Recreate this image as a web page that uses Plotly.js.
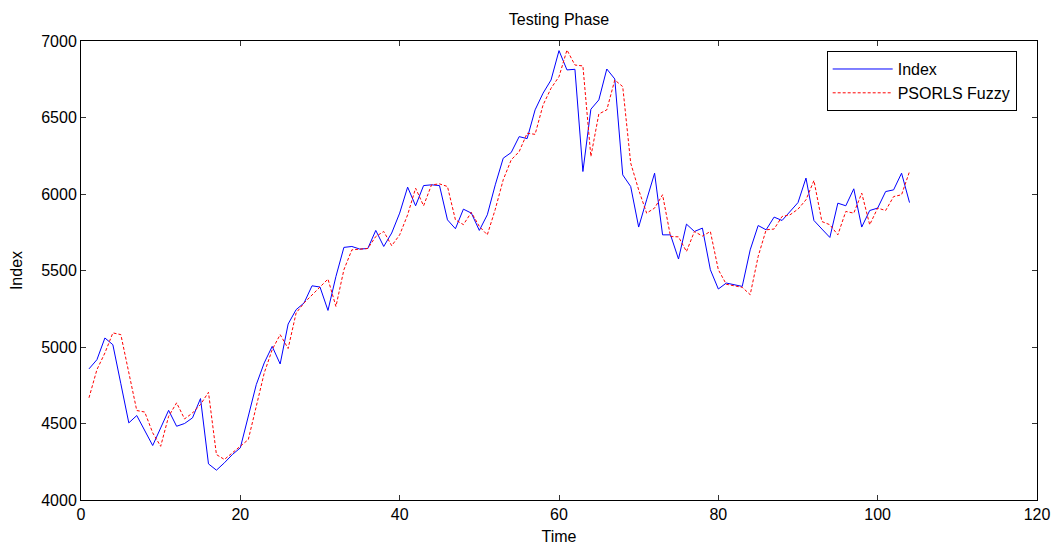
<!DOCTYPE html>
<html>
<head>
<meta charset="utf-8">
<script src="https://cdn.plot.ly/plotly-3.0.1.min.js"></script>
<style>
  html, body { margin: 0; padding: 0; background: #fff; }
  #chart { width: 1053px; height: 545px; }
</style>
</head>
<body>
<div id="chart"></div>
<script>
// Time steps of the testing period
const time = Array.from({length: 104}, (_, i) => i + 1);

// Actual index values
const indexValues = [
  4857, 4917, 5059, 5015, 4760, 4504, 4552, 4454, 4356, 4471,
  4586, 4482, 4500, 4537, 4663, 4236, 4195, 4243, 4297, 4341,
  4547, 4754, 4896, 5004, 4889, 5150, 5244, 5288, 5400, 5392,
  5239, 5461, 5651, 5657, 5640, 5644, 5762, 5657, 5745, 5875,
  6045, 5923, 6055, 6060, 6055, 5831, 5773, 5901, 5875, 5762,
  5864, 6060, 6234, 6271, 6375, 6362, 6550, 6659, 6745, 6937,
  6811, 6815, 6147, 6554, 6615, 6817, 6752, 6125, 6049, 5784,
  5962, 6136, 5733, 5733, 5575, 5803, 5755, 5777, 5505, 5379,
  5418, 5407, 5396, 5635, 5794, 5766, 5849, 5827, 5886, 5944,
  6104, 5827, 5771, 5716, 5940, 5923, 6034, 5784, 5892, 5908,
  6016, 6027, 6136, 5944
];

// PSORLS fuzzy model forecasts
const fuzzyValues = [
  4668, 4852, 4961, 5092, 5081, 4830, 4585, 4575, 4439, 4351,
  4547, 4635, 4530, 4569, 4624, 4704, 4297, 4265, 4308, 4351,
  4395, 4612, 4830, 4983, 5081, 4990, 5222, 5288, 5342, 5396,
  5444, 5265, 5505, 5635, 5640, 5644, 5722, 5755, 5662, 5733,
  5864, 6038, 5923, 6060, 6066, 6049, 5831, 5800, 5880, 5788,
  5733, 5900, 6093, 6223, 6277, 6397, 6390, 6582, 6691, 6767,
  6941, 6843, 6837, 6245, 6523, 6550, 6745, 6702, 6202, 6027,
  5875, 5908, 5995, 5722, 5720, 5624, 5755, 5725, 5755, 5505,
  5410, 5400, 5390, 5342, 5592, 5766, 5771, 5853, 5864, 5901,
  5962, 6088, 5820, 5799, 5733, 5886, 5875, 6006, 5799, 5908,
  5892, 5983, 5995, 6147
];

const seriesNames = ['Index', 'PSORLS Fuzzy'];
const xTicks = [0, 20, 40, 60, 80, 100, 120];
const yTicks = [4000, 4500, 5000, 5500, 6000, 6500, 7000];

const font = 'Liberation Sans, Arial, sans-serif';

const traces = [
  {
    x: time, y: indexValues, name: seriesNames[0],
    type: 'scatter', mode: 'lines',
    line: {color: '#0000ff', width: 1}
  },
  {
    x: time, y: fuzzyValues, name: seriesNames[1],
    type: 'scatter', mode: 'lines',
    line: {color: '#ff0000', width: 1, dash: '3px,2px'}
  }
];

const axisCommon = {
  showgrid: false, zeroline: false,
  showline: true, linecolor: '#000', linewidth: 1, mirror: 'ticks',
  ticks: 'inside', ticklen: 5, tickcolor: '#333', tickwidth: 1,
  tickfont: {family: font, size: 16, color: '#000'},
  fixedrange: true
};

const layout = {
  width: 1053, height: 545,
  margin: {l: 81, r: 16, t: 41, b: 45},
  paper_bgcolor: '#fff', plot_bgcolor: '#fff',
  font: {family: font, size: 16, color: '#000'},
  title: {
    text: 'Testing Phase',
    font: {family: font, size: 16, color: '#000'},
    x: 0.5, xref: 'paper', xanchor: 'center',
    y: 1 - 19 / 545, yref: 'container', yanchor: 'middle'
  },
  xaxis: Object.assign({}, axisCommon, {
    range: [0, 120], tickvals: xTicks,
    title: {text: 'Time', font: {family: font, size: 16, color: '#000'}, standoff: 10}
  }),
  yaxis: Object.assign({}, axisCommon, {
    range: [4000, 7000], tickvals: yTicks,
    title: {text: 'Index', font: {family: font, size: 16, color: '#000'}, standoff: 14}
  }),
  showlegend: true,
  legend: {
    x: 0.780, y: 0.978, xanchor: 'left', yanchor: 'top',
    bgcolor: '#fff', bordercolor: '#000', borderwidth: 1,
    font: {family: font, size: 16, color: '#000'},
    itemwidth: 60, tracegroupgap: 0
  }
};

Plotly.newPlot('chart', traces, layout, {displayModeBar: false, staticPlot: true});
</script>
</body>
</html>
